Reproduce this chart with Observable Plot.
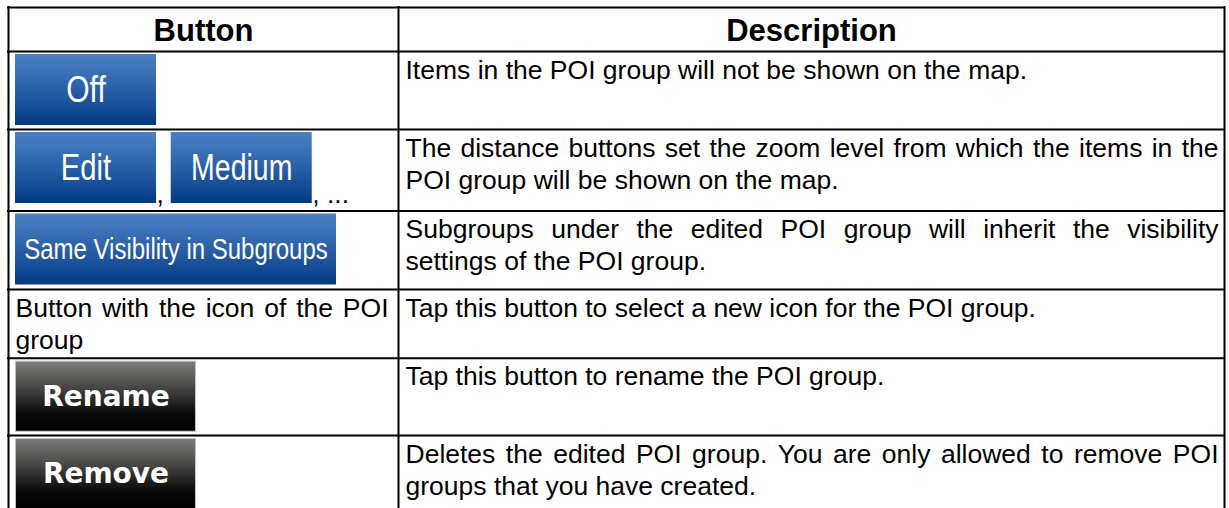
<!DOCTYPE html>
<html>
<head>
<meta charset="utf-8">
<script src="https://cdn.jsdelivr.net/npm/d3@7"></script>
<script src="https://cdn.jsdelivr.net/npm/@observablehq/plot@0.6"></script>
<style>
html, body { margin: 0; padding: 0; background: #fff; }
svg { display: block; }
</style>
</head>
<body>
<div id="chart"></div>
<script>
// ---------- content ----------
const headers = ["Button", "Description"];

const buttonLabels   = ["Off", "Edit", "Medium", "Same Visibility in Subgroups", "Rename", "Remove"];
const buttonRows     = [1, 2, 2, 3, 5, 6];
const buttonKinds    = ["blue", "blue", "blue", "blue", "dark", "dark"];
const buttonSuffixes = ["", ",", ", ...", "", "", ""];

const leftTextRows  = [4];
const leftTextLines = [["Button with the icon of the POI", "group"]];

const descriptionLines = [
  ["Items in the POI group will not be shown on the map."],
  ["The distance buttons set the zoom level from which the items in the",
   "POI group will be shown on the map."],
  ["Subgroups under the edited POI group will inherit the visibility",
   "settings of the POI group."],
  ["Tap this button to select a new icon for the POI group."],
  ["Tap this button to rename the POI group."],
  ["Deletes the edited POI group. You are only allowed to remove POI",
   "groups that you have created."]
];

// ---------- layout & style ----------
const layout = {
  width: 1229, height: 508,
  colEdges: [8, 398, 1224],
  rowEdges: [7, 51, 129, 210.5, 289, 357.7, 435, 514],
  padLeft: 7, padRight: [10, 6],
  baselineOffset: 27, lineHeight: 32,
  headerBaseline: 33,
  buttonTop: 3, buttonHeight: 71,
  buttonWidths: [141, 141, 141, 321, 181, 181],
  buttonFontSizes: [37.5, 37.5, 37.5, 30, 28, 28],
  blueSqueeze: [0.8, 0.78, 0.76, 0.8],
  bodySize: 26.5, headerSize: 31
};
const bodyFamily = '"Liberation Sans", Arial, Helvetica, sans-serif';
const darkFamily = '"DejaVu Sans", Verdana, sans-serif';

const ctx = document.createElement("canvas").getContext("2d");
function measure(txt, size, weight = "normal") {
  ctx.font = `${weight} ${size}px "Liberation Sans"`;
  return ctx.measureText(txt).width;
}

// buttons (inline flow inside a cell)
const buttons = [];
const suffixTexts = [];
const cursor = {};
buttonLabels.forEach((label, i) => {
  const r = buttonRows[i];
  const top = layout.rowEdges[r] + layout.buttonTop;
  const x0 = cursor[r] ?? (layout.colEdges[0] + layout.padLeft);
  const w = layout.buttonWidths[i];
  const b = {label, kind: buttonKinds[i], x1: x0, x2: x0 + w, y1: top, y2: top + layout.buttonHeight,
             size: layout.buttonFontSizes[i], squeeze: layout.blueSqueeze[i] ?? 1};
  buttons.push(b);
  let next = x0 + w;
  if (buttonSuffixes[i]) {
    suffixTexts.push({text: buttonSuffixes[i], x: next, y: b.y2 - 1});
    next += measure(buttonSuffixes[i], layout.bodySize);
  }
  cursor[r] = next + measure(" ", layout.bodySize);
});

// paragraphs (justified like the source document)
const words = [];
function layoutParagraph(lines, col, row) {
  const left = layout.colEdges[col] + layout.padLeft;
  const right = layout.colEdges[col + 1] - layout.padRight[col];
  lines.forEach((line, li) => {
    const y = layout.rowEdges[row] + layout.baselineOffset + li * layout.lineHeight;
    const justify = li < lines.length - 1;
    if (!justify) { words.push({text: line, x: left, y}); return; }
    const ws = line.split(" ");
    const widths = ws.map(w => measure(w, layout.bodySize));
    const gap = (right - left - d3.sum(widths)) / (ws.length - 1);
    let x = left;
    ws.forEach((w, k) => { words.push({text: w, x, y}); x += widths[k] + gap; });
  });
}
descriptionLines.forEach((lines, i) => layoutParagraph(lines, 1, i + 1));
leftTextLines.forEach((lines, i) => layoutParagraph(lines, 0, leftTextRows[i]));

const headerCells = headers.map((h, i) => ({
  text: h,
  x: (layout.colEdges[i] + layout.colEdges[i + 1]) / 2,
  y: layout.rowEdges[0] + layout.headerBaseline
}));

const hLines = layout.rowEdges;
const vLines = layout.colEdges;

const defsMark = () => {
  const defs = d3.create("svg:defs");
  const gb = defs.append("linearGradient").attr("id", "gradBlue")
    .attr("x1", 0).attr("y1", 0).attr("x2", 0).attr("y2", 1);
  [["0%", "#4c82c4"], ["45%", "#2d63aa"], ["100%", "#033a82"]]
    .forEach(([o, c]) => gb.append("stop").attr("offset", o).attr("stop-color", c));
  const gd = defs.append("linearGradient").attr("id", "gradDark")
    .attr("x1", 0).attr("y1", 0).attr("x2", 0).attr("y2", 1);
  [["0%", "#7d7e7b"], ["35%", "#4a4a49"], ["75%", "#0a0a0a"], ["100%", "#000000"]]
    .forEach(([o, c]) => gd.append("stop").attr("offset", o).attr("stop-color", c));
  return defs.node();
};

const blue = buttons.filter(b => b.kind === "blue");
const dark = buttons.filter(b => b.kind === "dark");

const plot = Plot.plot({
  width: layout.width,
  height: layout.height,
  margin: 0,
  x: {domain: [0, layout.width], range: [0, layout.width], axis: null},
  y: {domain: [0, layout.height], range: [0, layout.height], axis: null},
  style: {background: "#fff", overflow: "hidden"},
  marks: [
    defsMark,
    Plot.rect(blue, {x1: "x1", x2: "x2", y1: "y1", y2: "y2", fill: "url(#gradBlue)", inset: 0}),
    Plot.rect(dark, {x1: "x1", x2: "x2", y1: "y1", y2: "y2", fill: "url(#gradDark)", stroke: "#c2c2c2", strokeWidth: 1, inset: 0.5}),
    Plot.text(blue, {
      x: d => (d.x1 + d.x2) / 2, y: d => (d.y1 + d.y2) / 2, text: "label",
      fill: "#fefefe", fontSize: d => d.size, fontFamily: bodyFamily,
      lineAnchor: "middle", textAnchor: "middle"
    }),
    Plot.text(dark, {
      x: d => (d.x1 + d.x2) / 2, y: d => (d.y1 + d.y2) / 2, text: "label",
      fill: "#ffffff", fontSize: d => d.size, fontFamily: darkFamily, fontWeight: "bold",
      lineAnchor: "middle", textAnchor: "middle"
    }),
    Plot.text(suffixTexts, {
      x: "x", y: "y", text: "text", fill: "#000", fontSize: layout.bodySize,
      fontFamily: bodyFamily, textAnchor: "start", lineAnchor: "bottom"
    }),
    Plot.text(words, {
      x: "x", y: "y", text: "text", fill: "#000", fontSize: layout.bodySize,
      fontFamily: bodyFamily, textAnchor: "start", lineAnchor: "bottom"
    }),
    Plot.text(headerCells, {
      x: "x", y: "y", text: "text", fill: "#000", fontSize: layout.headerSize,
      fontFamily: bodyFamily, fontWeight: "bold", textAnchor: "middle", lineAnchor: "bottom"
    }),
    Plot.ruleY(hLines, {y: d => d, x1: vLines[0] - 1, x2: vLines[vLines.length - 1] + 1, stroke: "#000", strokeWidth: 2}),
    Plot.ruleX(vLines, {x: d => d, y1: hLines[0] - 1, y2: hLines[hLines.length - 1], stroke: "#000", strokeWidth: 2})
  ]
});

// narrow the blue-button lettering (condensed face in the source)
const squeezeByLabel = new Map(blue.map(b => [b.label, b.squeeze]));
d3.select(plot).selectAll("text")
  .filter(function () { return squeezeByLabel.has(this.textContent); })
  .each(function () {
    const t = this.getAttribute("transform") || "";
    this.setAttribute("transform", t + ` scale(${squeezeByLabel.get(this.textContent)},1)`);
  });

document.getElementById("chart").appendChild(plot);
</script>
</body>
</html>
